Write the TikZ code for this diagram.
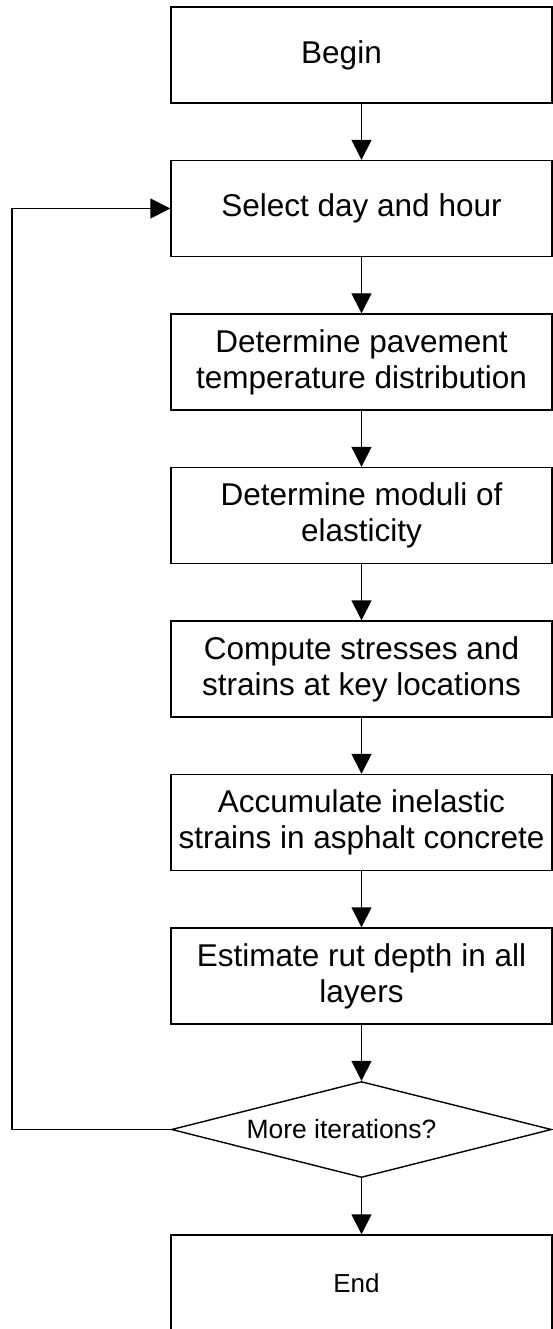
\documentclass[tikz,border=0pt]{standalone}
\usepackage{fontspec}
\setmainfont{Liberation Sans}
\usetikzlibrary{arrows.meta,shapes.geometric,positioning,calc}

\tikzset{
  stepbox/.style={draw, line width=1.4pt, rectangle, minimum width=381pt,
    minimum height=96pt, inner sep=0pt, align=center,
    font=\fontsize{31.5}{36}\selectfont},
  endbox/.style={stepbox, font=\fontsize{26}{30}\selectfont},
  testbox/.style={draw, line width=1.4pt, diamond, aspect=3.96,
    minimum width=380pt, minimum height=96pt, inner sep=0pt,
    font=\fontsize{26.5}{30}\selectfont},
  flow/.style={line width=1.4pt, -{Triangle[length=20pt,width=20pt]}}
}

\begin{document}
\begin{tikzpicture}[x=1pt,y=1pt]

    \def\cx{361.5}
    \def\dy{153.5}
    \useasboundingbox (0,0) rectangle (553,-1329);

    % boxes
    \node[stepbox] (begin) at (\cx,-55) {Begin\hspace*{40pt}};
    \node[stepbox] (select) at (\cx,{-55-\dy}) {Select day and hour};
    \node[stepbox] (temp) at (\cx,{-55-2*\dy}) {Determine pavement\\temperature distribution};
    \node[stepbox] (moduli) at (\cx,{-55-3*\dy}) {Determine moduli of\\elasticity};
    \node[stepbox] (stress) at (\cx,{-55-4*\dy}) {Compute stresses and\\strains at key locations};
    \node[stepbox] (inelastic) at (\cx,{-55-5*\dy}) {Accumulate inelastic\\strains in asphalt concrete};
    \node[stepbox] (rut) at (\cx,{-55-6*\dy}) {Estimate rut depth in all\\layers};
    \node[testbox] (more) at (\cx,{-55-7*\dy}) {More iterations?\hspace*{40pt}};
    \node[endbox] (end) at (\cx,{-55-8*\dy}) {End\hspace*{10pt}};

    % arrows
    \draw[flow] (begin) -- (select);
    \draw[flow] (select) -- (temp);
    \draw[flow] (temp) -- (moduli);
    \draw[flow] (moduli) -- (stress);
    \draw[flow] (stress) -- (inelastic);
    \draw[flow] (inelastic) -- (rut);
    \draw[flow] (rut) -- (more);
    \draw[flow] (more) -- (end);

    % loop back
    \coordinate (back) at (12,{-55-7*\dy});
    \draw[flow] (more.west) -- (back) |- (select.west);

\end{tikzpicture}
\end{document}
